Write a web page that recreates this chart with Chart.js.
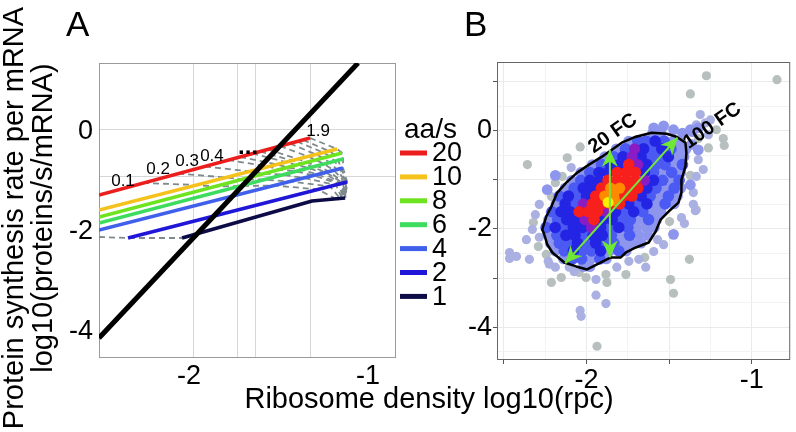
<!DOCTYPE html>
<html><head><meta charset="utf-8">
<script src="https://cdn.jsdelivr.net/npm/chart.js@4.4.0/dist/chart.umd.min.js"></script>
<style>
html,body{margin:0;padding:0;background:#fff}
body{width:796px;height:432px;position:relative;overflow:hidden;font-family:'Liberation Sans',Arial,sans-serif;color:#000}
canvas{position:absolute;top:0}
#ca{left:0}
#cb{left:455px}
.t{position:absolute;white-space:nowrap}
.yt{font-size:29px;line-height:29px;transform:translate(-50%,-50%) rotate(-90deg)}
</style></head><body>
<canvas id="ca" width="470" height="432"></canvas>
<canvas id="cb" width="341" height="432"></canvas>
<div class="t" style="left:66px;top:6px;font-size:35px;line-height:35px">A</div>
<div class="t" style="left:464px;top:6px;font-size:35px;line-height:35px">B</div>
<div class="t yt" style="left:13px;top:218px">Protein synthesis rate per mRNA</div>
<div class="t yt" style="left:42px;top:218px">log10(proteins/s/mRNA)</div>
<div class="t" style="left:429px;top:384px;font-size:29px;line-height:29px;transform:translateX(-50%)">Ribosome density log10(rpc)</div>
<script>
// ================= Panel A data =================
const aXTicks = [-2, -1];
const aYTicks = [0, -2, -4];
const aGridX = [-1.979, -1.732, -1.631, -1.324];
const aGridY = [0.06, -0.88];
const aRates = ['20', '10', '8', '6', '4', '2', '1'];
const rate20 = [[-2.503,-1.26],[-1.324,-0.12]];
const rate10 = [[-2.503,-1.56],[-1.173,-0.34]];
const rate8  = [[-2.503,-1.70],[-1.145,-0.42]];
const rate6  = [[-2.503,-1.82],[-1.140,-0.54]];
const rate4  = [[-2.503,-1.96],[-1.140,-0.72]];
const rate2  = [[-2.341,-2.12],[-1.117,-1.00]];
const rate1  = [[-2.039,-2.12],[-1.313,-1.38],[-1.128,-1.32]];
const limitLine = [[-2.503,-4.12],[-1.056,1.38]];
const isoBase = [[-2.503,-2.10],[-2.341,-2.12],[-2.039,-2.12]];
const iso01 = [[-2.257,-1.02],[-1.955,-1.06],[-1.855,-1.09],[-1.715,-1.08],[-1.520,-1.07],[-1.279,-1.15],[-1.179,-1.34]];
const iso02 = [[-2.061,-0.83],[-1.793,-0.91],[-1.704,-0.95],[-1.592,-0.95],[-1.436,-0.99],[-1.212,-1.09],[-1.156,-1.33]];
const iso03 = [[-1.911,-0.69],[-1.659,-0.79],[-1.581,-0.83],[-1.486,-0.85],[-1.358,-0.92],[-1.179,-1.06],[-1.145,-1.33]];
const iso04 = [[-1.782,-0.56],[-1.559,-0.69],[-1.492,-0.75],[-1.413,-0.78],[-1.302,-0.87],[-1.162,-1.04],[-1.140,-1.32]];
const iso05 = [[-1.715,-0.50],[-1.508,-0.65],[-1.447,-0.71],[-1.380,-0.75],[-1.279,-0.85],[-1.156,-1.03],[-1.134,-1.32]];
const iso06 = [[-1.648,-0.43],[-1.458,-0.60],[-1.402,-0.66],[-1.341,-0.71],[-1.251,-0.82],[-1.145,-1.03],[-1.134,-1.32]];
const iso07 = [[-1.603,-0.39],[-1.425,-0.57],[-1.371,-0.63],[-1.316,-0.69],[-1.235,-0.81],[-1.140,-1.02],[-1.128,-1.32]];
const iso08 = [[-1.559,-0.35],[-1.391,-0.54],[-1.341,-0.61],[-1.291,-0.67],[-1.218,-0.79],[-1.134,-1.02],[-1.128,-1.32]];
const iso10 = [[-1.492,-0.28],[-1.335,-0.49],[-1.291,-0.56],[-1.251,-0.63],[-1.190,-0.77],[-1.128,-1.01],[-1.128,-1.32]];
const iso12 = [[-1.436,-0.23],[-1.291,-0.45],[-1.251,-0.52],[-1.218,-0.60],[-1.173,-0.75],[-1.123,-1.01],[-1.128,-1.32]];
const iso14 = [[-1.397,-0.19],[-1.251,-0.41],[-1.212,-0.49],[-1.190,-0.57],[-1.156,-0.74],[-1.123,-1.01],[-1.128,-1.32]];
const iso16 = [[-1.363,-0.16],[-1.218,-0.38],[-1.184,-0.46],[-1.168,-0.55],[-1.151,-0.73],[-1.117,-1.00],[-1.128,-1.32]];
const iso19 = [[-1.324,-0.12],[-1.173,-0.34],[-1.145,-0.42],[-1.140,-0.54],[-1.140,-0.72],[-1.117,-1.00],[-1.128,-1.32]];
const aIsoLabels = ['0.1', '0.2', '0.3', '0.4', '...', '1.9'];
const aIsoLabelPos = [[-2.369,-0.98],[-2.173,-0.74],[-2.011,-0.58],[-1.872,-0.48],[-1.670,-0.30],[-1.279,0.02]];

// ================= Panel B data =================
const bXTicks = [-2.5, -2.25, -2, -1.75, -1.5, -1.25, -1];
const bYTicks = [-4.5, -4, -3.5, -3, -2.5, -2, -1.5, -1, -0.5, 0, 0.5, 1];
const bXLabels = [-2, -1];
const bYLabels = [0, -2, -4];
const ptGray = [[-1.275,1.12],[-0.848,1.04],[-1.372,0.75],[-2.358,-0.69],[-2.039,-0.33],[-2.117,-0.55],[-2.189,-1.06],[-2.147,-0.93],[-2.213,-1.34],[-2.322,-1.87],[-2.292,-2.36],[-2.244,-2.52],[-2.213,-3.09],[-2.153,-2.99],[-2.045,-2.89],[-2.003,-2.99],[-1.883,-2.93],[-1.877,-3.09],[-1.762,-2.93],[-1.648,-2.58],[-1.492,-3.03],[-1.474,-3.31],[-1.378,-2.62],[-1.215,0.02],[-1.173,-0.16],[-1.167,-0.30],[-1.263,-0.35],[-1.324,-0.16],[-1.372,-0.91],[-1.336,-1.61],[-1.498,-1.85],[-1.937,-4.39]];
const ptLight = [[-2.466,-2.48],[-2.424,-2.56],[-2.466,-2.60],[-1.943,-3.35],[-1.883,-3.52],[-2.039,-3.66],[-2.033,-3.78],[-2.225,-2.72],[-2.105,-2.78],[-1.642,-2.78],[-1.570,-2.22],[-1.408,-1.89],[-1.426,-1.77],[-1.354,-1.50],[-1.342,-1.63],[-1.336,-0.93],[-1.354,-1.26],[-1.312,0.33],[-1.281,0.16],[-1.251,0.22],[-1.336,0.12],[-1.263,-0.08],[-2.093,-0.75],[-2.286,-1.50],[-2.310,-1.71],[-2.364,-2.22],[-2.346,-2.62],[-1.324,-0.59],[-1.294,-0.79],[-1.534,-2.32],[-1.594,-2.46],[-1.684,-2.62],[-1.744,-2.66],[-1.817,-2.78],[-1.943,-3.03],[-2.328,-2.01],[-2.286,-2.17],[-2.232,-2.66],[-2.189,-2.78],[-2.075,-2.87]];
const ptLav = [[-1.60,-0.05],[-1.55,-0.05],[-1.745,-0.21],[-1.475,-0.21],[-1.43,-0.21],[-1.82,-0.37],[-1.435,-0.37],[-1.40,-0.37],[-1.89,-0.53],[-1.45,-0.53],[-1.41,-0.53],[-1.965,-0.69],[-1.47,-0.69],[-2.035,-0.85],[-1.54,-0.85],[-1.43,-0.85],[-2.09,-1.01],[-1.485,-1.01],[-2.13,-1.17],[-1.525,-1.17],[-1.43,-1.17],[-1.56,-1.33],[-1.45,-1.33],[-2.185,-1.49],[-1.58,-1.49],[-1.47,-1.49],[-1.605,-1.65],[-1.55,-1.65],[-2.23,-1.81],[-1.68,-1.81],[-1.575,-1.81],[-1.695,-1.97],[-1.64,-1.97],[-1.59,-1.97],[-2.235,-2.13],[-1.795,-2.13],[-1.685,-2.13],[-1.63,-2.13],[-2.22,-2.29],[-1.78,-2.29],[-1.725,-2.29],[-1.67,-2.29],[-2.19,-2.45],[-1.86,-2.45],[-1.76,-2.45],[-2.14,-2.61],[-1.975,-2.61],[-1.88,-2.61],[-2.02,-2.77],[-1.98,-2.77],[-1.594,0.06],[-1.534,0.10],[-1.474,0.02],[-1.324,0.06],[-1.372,0.02],[-1.402,-0.39],[-1.366,-0.28],[-1.372,-1.10],[-1.324,-0.39],[-1.474,-2.11],[-2.238,-1.20],[-2.189,-0.91],[-1.42,-0.05],[-1.36,-0.02]];
const ptBlue = [[-1.69,-0.21],[-1.64,-0.21],[-1.53,-0.21],[-1.765,-0.37],[-1.60,-0.37],[-1.49,-0.37],[-1.835,-0.53],[-1.615,-0.53],[-1.56,-0.53],[-1.91,-0.69],[-1.58,-0.69],[-1.525,-0.69],[-1.42,-0.69],[-1.98,-0.85],[-1.595,-0.85],[-1.485,-0.85],[-2.035,-1.01],[-1.54,-1.01],[-1.44,-1.01],[-2.075,-1.17],[-1.58,-1.17],[-1.47,-1.17],[-2.165,-1.33],[-2.055,-1.33],[-1.615,-1.33],[-1.505,-1.33],[-2.075,-1.49],[-1.69,-1.49],[-1.525,-1.49],[-2.21,-1.65],[-1.77,-1.65],[-1.66,-1.65],[-2.175,-1.81],[-1.79,-1.81],[-1.735,-1.81],[-1.625,-1.81],[-2.245,-1.97],[-2.135,-1.97],[-1.86,-1.97],[-1.75,-1.97],[-2.18,-2.13],[-2.015,-2.13],[-1.85,-2.13],[-1.74,-2.13],[-2.165,-2.29],[-2.11,-2.29],[-2.00,-2.29],[-1.89,-2.29],[-1.835,-2.29],[-2.135,-2.45],[-2.025,-2.45],[-1.97,-2.45],[-1.805,-2.45],[-2.085,-2.61],[-2.03,-2.61],[-1.92,-2.61]];
const ptDark = [[-1.585,-0.21],[-1.655,-0.37],[-1.545,-0.37],[-1.78,-0.53],[-1.67,-0.53],[-1.505,-0.53],[-1.855,-0.69],[-1.80,-0.69],[-1.635,-0.69],[-1.925,-0.85],[-1.87,-0.85],[-1.65,-0.85],[-1.98,-1.01],[-1.925,-1.01],[-1.595,-1.01],[-2.02,-1.17],[-1.965,-1.17],[-1.635,-1.17],[-2.11,-1.33],[-2.00,-1.33],[-1.67,-1.33],[-2.13,-1.49],[-1.745,-1.49],[-1.635,-1.49],[-2.155,-1.65],[-2.10,-1.65],[-1.825,-1.65],[-1.715,-1.65],[-2.12,-1.81],[-2.065,-1.81],[-1.90,-1.81],[-1.845,-1.81],[-2.19,-1.97],[-2.08,-1.97],[-2.025,-1.97],[-1.915,-1.97],[-1.805,-1.97],[-2.125,-2.13],[-2.07,-2.13],[-1.96,-2.13],[-1.905,-2.13],[-2.055,-2.29],[-1.945,-2.29],[-2.08,-2.45],[-1.915,-2.45]];
const ptPurple = [[-1.71,-0.37],[-1.725,-0.53],[-1.69,-0.69],[-1.65,-1.01],[-2.02,-1.49],[-1.88,-1.65],[-2.01,-1.81],[-1.97,-1.97]];
const ptRed = [[-1.745,-0.69],[-1.815,-0.85],[-1.76,-0.85],[-1.705,-0.85],[-1.87,-1.01],[-1.815,-1.01],[-1.76,-1.01],[-1.705,-1.01],[-1.91,-1.17],[-1.745,-1.17],[-1.69,-1.17],[-1.945,-1.33],[-1.78,-1.33],[-1.725,-1.33],[-1.965,-1.49],[-1.91,-1.49],[-1.855,-1.49],[-1.80,-1.49],[-2.045,-1.65],[-1.99,-1.65],[-1.935,-1.65],[-1.955,-1.81]];
const ptOrange = [[-1.855,-1.17],[-1.80,-1.17],[-1.89,-1.33],[-1.835,-1.33],[-1.83,-1.42]];
const ptYellow = [[-1.87,-1.46]];
const contour = [[-2.256,-2.114],[-2.268,-2.012],[-2.244,-1.748],[-2.213,-1.545],[-2.177,-1.260],[-2.123,-1.057],[-2.057,-0.854],[-1.985,-0.691],[-1.907,-0.528],[-1.847,-0.386],[-1.787,-0.244],[-1.702,-0.122],[-1.606,-0.041],[-1.516,-0.061],[-1.456,-0.122],[-1.402,-0.244],[-1.396,-0.447],[-1.402,-0.732],[-1.426,-0.996],[-1.426,-1.260],[-1.444,-1.463],[-1.504,-1.646],[-1.552,-1.809],[-1.582,-2.053],[-1.624,-2.276],[-1.702,-2.378],[-1.762,-2.480],[-1.793,-2.581],[-1.853,-2.581],[-1.913,-2.683],[-1.997,-2.825],[-2.063,-2.764],[-2.135,-2.683],[-2.207,-2.480],[-2.238,-2.317],[-2.256,-2.114]];
const arrow20 = [[-1.859,-0.386],[-1.859,-2.58]];
const arrow100 = [[-2.129,-2.70],[-1.450,-0.142]];
const fcLabels = ['20 FC', '100 FC'];
const fcLabelPos = [[-1.841,-0.06],[-1.239,0.10]];

// ================= helpers =================
const FONT = "'Liberation Sans', Arial, sans-serif";
const xy = arr => arr.map(([x, y]) => ({x, y}));
const lineDs = (label, arr, color, width, order, dash) => ({
  label, data: xy(arr), showLine: true, borderColor: color, borderWidth: width,
  pointRadius: 0, pointHoverRadius: 0, fill: false, tension: 0, order,
  borderDash: dash || [], borderCapStyle: 'butt', borderJoinStyle: 'round'
});
const ptDs = (label, arr, color, order, r) => ({
  label, data: xy(arr), showLine: false, backgroundColor: color, borderWidth: 0,
  pointRadius: r, pointHoverRadius: r, order
});
const near = (v, list) => list.some(t => Math.abs(t - v) < 1e-6);

// ================= Chart A =================
const rateColors = ['#ec1d1d', '#f5c11b', '#6ee31f', '#3ddc5e', '#4060ec', '#2016d8', '#0c0b46'];
const rateSeries = [rate20, rate10, rate8, rate6, rate4, rate2, rate1];
const isoSeries = [isoBase, iso01, iso02, iso03, iso04, iso05, iso06, iso07, iso08, iso10, iso12, iso14, iso16, iso19];
const dsA = [];
dsA.push(lineDs('limit', limitLine, '#000', 5, 0));
rateSeries.forEach((s, i) => dsA.push(lineDs(aRates[i], s, rateColors[i], 3.5, 1)));
isoSeries.forEach((s, i) => dsA.push(lineDs('iso' + i, s, '#7e8a8c', 1.8, 2, [6, 4])));

const aPlugin = {
  id: 'aDecor',
  beforeDatasetsDraw(chart) {
    const {ctx, chartArea: a, scales: {x, y}} = chart;
    ctx.save();
    ctx.strokeStyle = '#d6d6d6'; ctx.lineWidth = 1;
    aGridX.forEach(v => { const p = Math.round(x.getPixelForValue(v)) + 0.5; ctx.beginPath(); ctx.moveTo(p, a.top); ctx.lineTo(p, a.bottom); ctx.stroke(); });
    aGridY.forEach(v => { const p = Math.round(y.getPixelForValue(v)) + 0.5; ctx.beginPath(); ctx.moveTo(a.left, p); ctx.lineTo(a.right, p); ctx.stroke(); });
    ctx.strokeStyle = '#9a9a9a';
    ctx.strokeRect(a.left + 0.5, a.top + 0.5, a.width - 1, a.height - 1);
    ctx.restore();
  },
  afterDatasetsDraw(chart) {
    const {ctx, scales: {x, y}} = chart;
    ctx.save();
    ctx.fillStyle = '#000'; ctx.textAlign = 'center'; ctx.textBaseline = 'middle';
    aIsoLabels.forEach((t, i) => {
      ctx.font = t === '...' ? 'bold 24px ' + FONT : '17px ' + FONT;
      ctx.fillText(t, x.getPixelForValue(aIsoLabelPos[i][0]), y.getPixelForValue(aIsoLabelPos[i][1]));
    });
    ctx.restore();
  },
  afterDraw(chart) {
    const {ctx} = chart;
    ctx.save();
    ctx.fillStyle = '#000'; ctx.textAlign = 'left'; ctx.textBaseline = 'alphabetic';
    ctx.font = '28px ' + FONT;
    ctx.fillText('aa/s', 404, 138);
    ctx.textBaseline = 'middle';
    aRates.forEach((r, i) => {
      const yy = 153 + i * 23.9;
      ctx.strokeStyle = rateColors[i]; ctx.lineWidth = 5; ctx.lineCap = 'butt';
      ctx.beginPath(); ctx.moveTo(400, yy); ctx.lineTo(427, yy); ctx.stroke();
      ctx.font = '27px ' + FONT;
      ctx.fillText(r, 432, yy + 1);
    });
    ctx.restore();
  }
};

new Chart(document.getElementById('ca'), {
  type: 'scatter',
  data: {datasets: dsA},
  options: {
    responsive: false, animation: false, devicePixelRatio: 1,
    layout: {padding: {left: 0, top: 63, right: 74, bottom: 0}},
    plugins: {legend: {display: false}, tooltip: {enabled: false}},
    scales: {
      x: {
        type: 'linear', min: -2.503, max: -0.844,
        afterBuildTicks: s => { s.ticks = aXTicks.map(v => ({value: v})); },
        afterFit: s => { s.height = 74; },
        grid: {display: false, drawTicks: false}, border: {display: false},
        ticks: {color: '#000', font: {size: 27, family: FONT}, padding: 2, maxRotation: 0, autoSkip: false, callback: v => String(v)}
      },
      y: {
        type: 'linear', min: -4.52, max: 1.38,
        afterBuildTicks: s => { s.ticks = aYTicks.map(v => ({value: v})); },
        afterFit: s => { s.width = 99; },
        grid: {display: false, drawTicks: false}, border: {display: false},
        ticks: {color: '#000', font: {size: 27, family: FONT}, padding: 6, autoSkip: false, callback: v => String(v)}
      }
    }
  },
  plugins: [aPlugin]
});

// ================= Chart B =================
const dsB = [
  lineDs('contour', contour, '#000', 2.5, -1),
  ptDs('yellow', ptYellow, '#fff000', 0, 5.4),
  ptDs('orange', ptOrange, '#ff8a00', 1, 5.6),
  ptDs('red', ptRed, '#f7201c', 2, 5.8),
  ptDs('purple', ptPurple, '#8a1cc4', 3, 5.6),
  ptDs('dark', ptDark, '#2424e4', 4, 5.8),
  ptDs('blue', ptBlue, '#4a5af2', 5, 5.8),
  ptDs('lav', ptLav, '#8d96ec', 6, 5.4),
  ptDs('light', ptLight, '#aab0e2', 7, 4.6),
  ptDs('gray', ptGray, '#b7bfbf', 8, 4.6)
];

function arrowHead(ctx, x1, y1, x2, y2) {
  const ang = Math.atan2(y2 - y1, x2 - x1), L = 17, W = 8;
  const c = Math.cos(ang), s = Math.sin(ang);
  ctx.beginPath();
  ctx.moveTo(x2, y2);
  ctx.lineTo(x2 - L * c - W * s, y2 - L * s + W * c);
  ctx.lineTo(x2 - 0.7 * L * c, y2 - 0.7 * L * s);
  ctx.lineTo(x2 - L * c + W * s, y2 - L * s - W * c);
  ctx.closePath(); ctx.fill();
}

const bPlugin = {
  id: 'bDecor',
  afterDatasetsDraw(chart) {
    const {ctx, chartArea: a, scales: {x, y}} = chart;
    ctx.save();
    [arrow20, arrow100].forEach(arr => {
      const x1 = x.getPixelForValue(arr[0][0]), y1 = y.getPixelForValue(arr[0][1]);
      const x2 = x.getPixelForValue(arr[1][0]), y2 = y.getPixelForValue(arr[1][1]);
      ctx.strokeStyle = '#72e63a'; ctx.fillStyle = '#6ee832'; ctx.lineWidth = 2;
      ctx.beginPath(); ctx.moveTo(x1, y1); ctx.lineTo(x2, y2); ctx.stroke();
      arrowHead(ctx, x1, y1, x2, y2); arrowHead(ctx, x2, y2, x1, y1);
    });
    ctx.fillStyle = '#000'; ctx.font = 'bold 20px ' + FONT; ctx.textAlign = 'center'; ctx.textBaseline = 'middle';
    fcLabels.forEach((t, i) => {
      ctx.save();
      ctx.translate(x.getPixelForValue(fcLabelPos[i][0]), y.getPixelForValue(fcLabelPos[i][1]));
      ctx.rotate(-35 * Math.PI / 180);
      ctx.fillText(t, 0, 0);
      ctx.restore();
    });
    ctx.strokeStyle = '#666'; ctx.lineWidth = 1;
    ctx.strokeRect(a.left + 0.5, a.top + 0.5, a.width - 1, a.height - 1);
    ctx.restore();
  }
};

new Chart(document.getElementById('cb'), {
  type: 'scatter',
  data: {datasets: dsB},
  options: {
    responsive: false, animation: false, devicePixelRatio: 1,
    layout: {padding: {left: 0, top: 62, right: 4, bottom: 0}},
    plugins: {legend: {display: false}, tooltip: {enabled: false}},
    scales: {
      x: {
        type: 'linear', min: -2.542, max: -0.768,
        afterBuildTicks: s => { s.ticks = bXTicks.map(v => ({value: v})); },
        afterFit: s => { s.height = 72; },
        border: {display: false},
        grid: {
          color: c => near(c.tick.value % 0.5, [0, -0]) ? '#e8ebeb' : '#f2f3f3',
          tickColor: c => near(c.tick.value % 0.5, [0, -0]) ? '#555' : 'rgba(0,0,0,0)',
          tickLength: 4, lineWidth: 1
        },
        ticks: {color: '#000', font: {size: 27, family: FONT}, padding: 0, maxRotation: 0, autoSkip: false,
          callback: v => near(v, bXLabels) ? String(v) : ''}
      },
      y: {
        type: 'linear', min: -4.67, max: 1.40,
        afterBuildTicks: s => { s.ticks = bYTicks.map(v => ({value: v})); },
        afterFit: s => { s.width = 42; },
        border: {display: false},
        grid: {
          color: c => near(c.tick.value % 1, [0, -0]) ? '#e8ebeb' : '#f2f3f3',
          tickColor: c => near(c.tick.value % 1, [0, -0]) ? '#555' : 'rgba(0,0,0,0)',
          tickLength: 4, lineWidth: 1
        },
        ticks: {color: '#000', font: {size: 27, family: FONT}, padding: 1, autoSkip: false,
          callback: v => near(v, bYLabels) ? String(v) : ''}
      }
    }
  },
  plugins: [bPlugin]
});
</script>
</body></html>
